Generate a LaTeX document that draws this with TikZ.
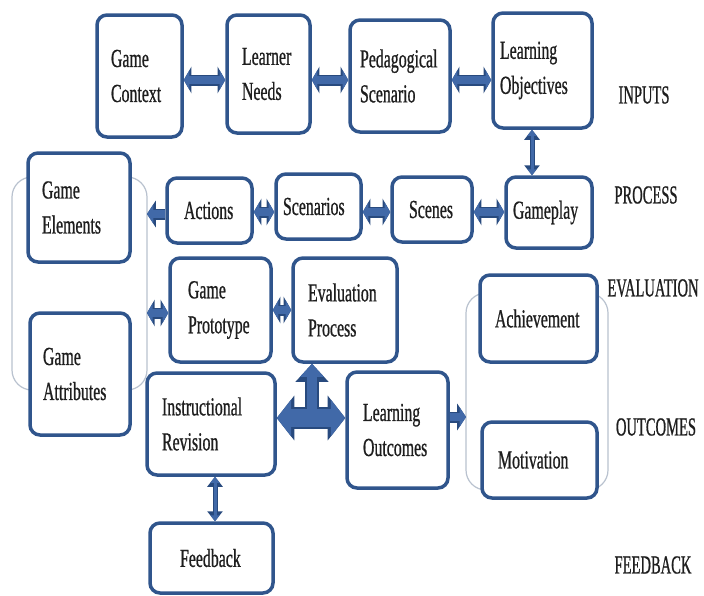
\documentclass[tikz,border=0pt]{standalone}
\usepackage{fontspec}
\usetikzlibrary{arrows.meta}
\newfontfamily\boxfont[FakeStretch=0.61,FakeBold=0.7]{Liberation Serif}
\newfontfamily\labfont[FakeStretch=0.56,FakeBold=0.7]{Liberation Serif}
\definecolor{boxblue}{HTML}{30558C}
\definecolor{arrowfill}{HTML}{4169A8}
\definecolor{arrowedge}{HTML}{284A7E}
\definecolor{brk}{HTML}{B9C2CF}
\definecolor{txt}{HTML}{1E1E1E}
\newcommand\mybox[7]{%
  \pgfmathsetmacro\bcx{(#2+#4)/2}\pgfmathsetmacro\bcy{(#3+#5)/2}%
  \pgfmathsetmacro\bww{#4-#2}\pgfmathsetmacro\bhh{#5-#3}\pgfmathsetmacro\btw{#4-#2-2*#6}%
  \node[box, minimum width=\bww pt, minimum height=\bhh pt, text width=\btw pt, inner xsep=#6pt] (#1) at (\bcx,\bcy) {#7};}
\begin{document}
\begin{tikzpicture}[x=1pt,y=-1pt,
  box/.style={draw=boxblue, line width=3.5pt, rounded corners=10pt, fill=white,
    font=\boxfont\fontsize{26}{35}\selectfont, text=txt, align=left, inner ysep=2pt},
  lab/.style={font=\labfont\fontsize{26}{30}\selectfont, text=txt},
  bracket/.style={draw=brk, line width=1.2pt, rounded corners=20pt},
  dtip/.style n args={3}{line width=#1, arrows={Triangle[width=0pt #2,length=0pt #3]-Triangle[width=0pt #2,length=0pt #3]}},
  stip/.style n args={3}{line width=#1, arrows={-Triangle[width=0pt #2,length=0pt #3]}},
  dblk/.style={draw=arrowfill, dtip={8pt}{2.4}{0.7}, preaction={draw=arrowedge, dtip={11pt}{2.4}{0.7}}},
  sblk/.style={draw=arrowfill, stip={8pt}{2.4}{0.8}, preaction={draw=arrowedge, stip={11pt}{2.4}{0.8}}},
  vblk/.style={draw=arrowfill, dtip={3pt}{3}{2}, preaction={draw=arrowedge, dtip={5pt}{3}{2}}},
]
\fill[white] (0,0) rectangle (704,595);
% brackets
\draw[bracket] (12,177) rectangle (147,390);
\draw[bracket] (466,293) rectangle (608,490);
% boxes
\mybox{gc}{97}{15}{182}{137}{14}{Game\\Context}
\mybox{ln}{227}{15}{310}{133}{15}{Learner\\Needs}
\mybox{ps}{350}{20}{450}{132}{10}{Pedagogical\\Scenario}
\mybox{lobj}{493}{13}{592}{128}{7}{Learning\\Objectives}
\mybox{ge}{28}{153}{130}{262}{14}{Game\\Elements}
\mybox{act}{167}{178}{252}{243}{17}{Actions}
\mybox{scen}{276}{174}{361}{239}{7}{Scenarios}
\mybox{scn}{392}{177}{472}{242}{17}{Scenes}
\mybox{gp}{506}{177}{592}{248}{7}{Gameplay}
\mybox{gpr}{170}{258}{271}{362}{18}{Game\\Prototype}
\mybox{ev}{293}{258}{397}{362}{15}{Evaluation\\Process}
\mybox{ga}{30}{313}{130}{435}{13}{Game\\Attributes}
\mybox{ir}{147}{373}{275}{475}{15}{Instructional\\Revision}
\mybox{lo}{347}{372}{448}{488}{16}{Learning\\Outcomes}
\mybox{ach}{480}{275}{597}{362}{15}{Achievement}
\mybox{mot}{482}{422}{597}{498}{16}{Motivation}
\mybox{fb}{150}{523}{273}{593}{30}{Feedback}
% side labels
\node[lab] (linp) at (644,95) {INPUTS};
\node[lab] (lpro) at (646,195) {PROCESS};
\node[lab] (leva) at (653,288) {EVALUATION};
\node[lab] (lout) at (656,427) {OUTCOMES};
\node[lab] (lfee) at (653,565) {FEEDBACK};
% helper coordinates
\coordinate (ya) at (0,80);
\coordinate (yb) at (0,212);
\coordinate (lbr) at (147,0);
\coordinate (rbr) at (466,0);
\coordinate (xv) at (532,0);
\coordinate (xf) at (215,0);
\coordinate (tj) at (312,418);
% row 1
\draw[dblk] (gc.east |- ya) -- (ln.west |- ya);
\draw[dblk] (ln.east |- ya) -- (ps.west |- ya);
\draw[dblk] (ps.east |- ya) -- (lobj.west |- ya);
\draw[vblk] (xv |- lobj.south) -- (xv |- gp.north);
% row 2
\draw[sblk] (act.west |- 0,214) -- (lbr |- 0,214);
\draw[dblk] (act.east |- yb) -- (scen.west |- yb);
\draw[dblk] (scen.east |- yb) -- (scn.west |- yb);
\draw[dblk] (scn.east |- yb) -- (gp.west |- yb);
% row 3
\draw[dblk] (gpr.west |- 0,313) -- (lbr |- 0,313);
\draw[dblk] (gpr.east |- 0,310) -- (ev.west |- 0,310);
% T arrow
\draw[draw=arrowedge, dtip={22pt}{2}{0.8}] (ir.east |- tj) -- (lo.west |- tj);
\draw[draw=arrowedge, stip={14pt}{2.3}{1.3}] (tj) -- (tj |- ev.south);
\draw[draw=arrowfill, dtip={18pt}{2}{0.8}] (ir.east |- tj) -- (lo.west |- tj);
\draw[draw=arrowfill, stip={10pt}{2.3}{1.3}] (tj) -- (tj |- ev.south);
% outcomes
\draw[sblk] (lo.east |- 0,417) -- (rbr |- 0,417);
% feedback
\draw[vblk] (xf |- ir.south) -- (xf |- fb.north);
\end{tikzpicture}
\end{document}
